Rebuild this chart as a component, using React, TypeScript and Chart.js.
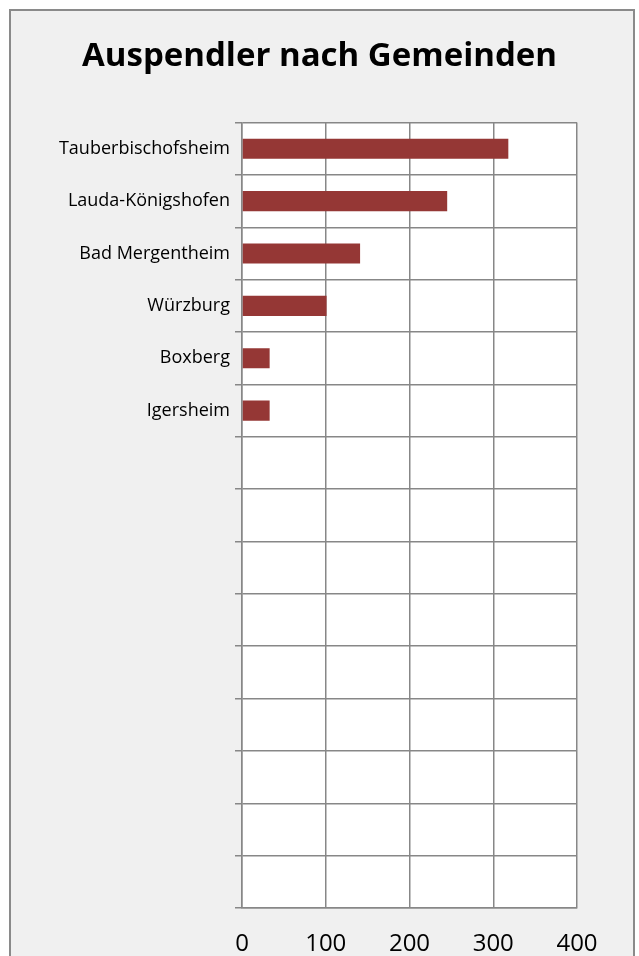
import React, { useEffect, useRef } from "react";
import { Chart, registerables } from "chart.js";

Chart.register(...registerables);

const categories: string[] = [
  "Tauberbischofsheim",
  "Lauda-Königshofen",
  "Bad Mergentheim",
  "Würzburg",
  "Boxberg",
  "Igersheim",
  "", "", "", "", "", "", "", "", "",
];
const values: (number | null)[] = [318, 245, 141, 101, 33, 33, null, null, null, null, null, null, null, null, null];
const xTicks: number[] = [0, 100, 200, 300, 400];
const titleText = "Auspendler nach Gemeinden";

const W = 639;
const H = 956;
const GRID = "#878787";

const framePlugin = {
  id: "frame",
  beforeDraw(chart: any) {
    const { ctx, chartArea } = chart;
    ctx.save();
    ctx.fillStyle = "#ffffff";
    ctx.fillRect(0, 0, W, H);
    ctx.fillStyle = "#f0f0f0";
    ctx.fillRect(10, 10, 624, H);
    ctx.strokeStyle = "#8a8a8a";
    ctx.lineWidth = 2;
    ctx.strokeRect(10, 10, 624, H + 20);
    ctx.fillStyle = "#ffffff";
    ctx.fillRect(chartArea.left, chartArea.top, chartArea.right - chartArea.left, chartArea.bottom - chartArea.top);
    ctx.restore();
  },
};

export default function App() {
  const ref = useRef<HTMLCanvasElement | null>(null);
  useEffect(() => {
    if (!ref.current) return;
    const chart = new Chart(ref.current, {
      type: "bar",
      data: {
        labels: categories,
        datasets: [
          {
            data: values as any,
            backgroundColor: "#953735",
            borderWidth: 0,
            barPercentage: 0.385,
            categoryPercentage: 1,
          },
        ],
      },
      options: {
        indexAxis: "y",
        animation: false,
        responsive: false,
        devicePixelRatio: 1,
        layout: { padding: 0 },
        plugins: {
          legend: { display: false },
          tooltip: { enabled: false },
          title: {
            display: true,
            text: titleText,
            color: "#000000",
            font: { family: "'Open Sans', sans-serif", size: 33, weight: "bold", lineHeight: 1.2 },
            padding: { top: 37, bottom: 46 },
          },
        },
        scales: {
          x: {
            type: "linear",
            min: 0,
            max: 400,
            afterBuildTicks: (s: any) => {
              s.ticks = xTicks.map((v) => ({ value: v }));
            },
            afterFit: (s: any) => {
              s.height = 48;
              s.paddingLeft = 0;
              s.paddingRight = 0;
            },
            grid: { color: GRID, lineWidth: 1.5, drawTicks: false },
            border: { display: true, color: GRID, width: 1.5 },
            ticks: {
              color: "#000000",
              padding: 22,
              font: { family: "'Open Sans', sans-serif", size: 24 },
            },
          },
          y: {
            type: "category",
            afterFit: (s: any) => {
              s.width = 242;
              s.paddingTop = 0;
              s.paddingBottom = 0;
            },
            grid: { color: GRID, lineWidth: 1.5, offset: true, drawTicks: true, tickLength: 7 },
            border: { display: true, color: GRID, width: 1.5 },
            ticks: {
              color: "#000000",
              padding: 5,
              autoSkip: false,
              font: { family: "'Open Sans', sans-serif", size: 18 },
            },
          },
          yRight: {
            type: "category",
            position: "right",
            display: true,
            grid: { display: false, drawTicks: false },
            border: { display: false },
            ticks: { display: false },
            afterFit: (s: any) => {
              s.width = 62;
              s.paddingTop = 0;
              s.paddingBottom = 0;
            },
          },
        },
      },
      plugins: [framePlugin],
    });
    return () => chart.destroy();
  }, []);
  return (
    <>
      <style>{`body{margin:0;overflow:hidden}`}</style>
      <canvas
        ref={ref}
        width={W}
        height={H}
        style={{ position: "fixed", left: 0, top: 0, width: W, height: H }}
      />
    </>
  );
}
